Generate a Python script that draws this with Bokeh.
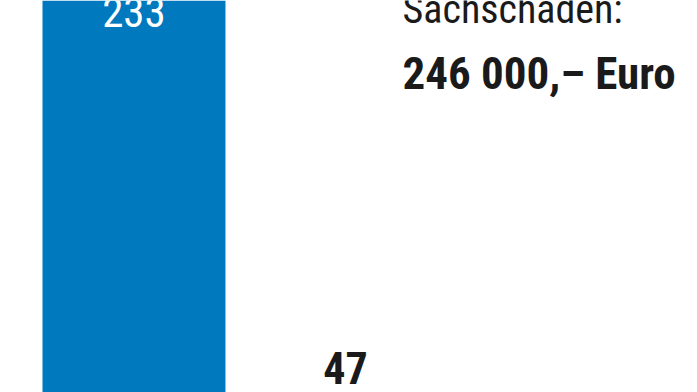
from bokeh.plotting import figure
from bokeh.models import ColumnDataSource, Label
from bokeh.core.properties import value
from bokeh.embed import file_html
from bokeh.resources import INLINE

# Einsätze / Verletzte
positions = [0, 1]
counts = [233, 47]
count_labels = ["233", "47"]

damage_title = "Sachschaden:"
damage_value = "246 000,– Euro"

FONT = "'Roboto Condensed', 'Noto Sans Condensed', 'Liberation Sans Narrow', 'DejaVu Sans Condensed', sans-serif"
BLUE = "#0079bf"
INK = "#1a1a1a"

src = ColumnDataSource(dict(x=positions, top=counts, label=count_labels))

p = figure(width=697, height=392, output_backend="svg", toolbar_location=None,
           x_range=(-0.631, 2.664), y_range=(50.5, 224),
           min_border=0, background_fill_color="white", border_fill_color="white")
p.axis.visible = False
p.grid.visible = False
p.outline_line_color = None

p.vbar(x="x", top="top", bottom=0, width=0.865, source=src,
       fill_color=BLUE, line_color=None)

# value labels: inside the tall bar, above the short one
p.text(x=[positions[0]], y=[counts[0]], text=[count_labels[0]], text_align="center",
       text_baseline="alphabetic", y_offset=32,
       text_color="white", text_font=value(FONT), text_font_size="43px")
p.text(x=[positions[1]], y=[counts[1]], text=[count_labels[1]], text_align="center",
       text_baseline="alphabetic", y_offset=-32,
       text_color=INK, text_font=value(FONT), text_font_size="44px",
       text_font_style="bold")

p.add_layout(Label(x=402, y=383, x_units="screen", y_units="screen",
                   text=damage_title, text_font=FONT, text_font_size="40px",
                   text_color=INK, text_baseline="alphabetic"))
p.add_layout(Label(x=402, y=319, x_units="screen", y_units="screen",
                   text=damage_value, text_font=FONT, text_font_size="45px",
                   text_font_style="bold", text_color=INK,
                   text_baseline="alphabetic"))

open("out.html", "w").write(file_html(p, INLINE))
